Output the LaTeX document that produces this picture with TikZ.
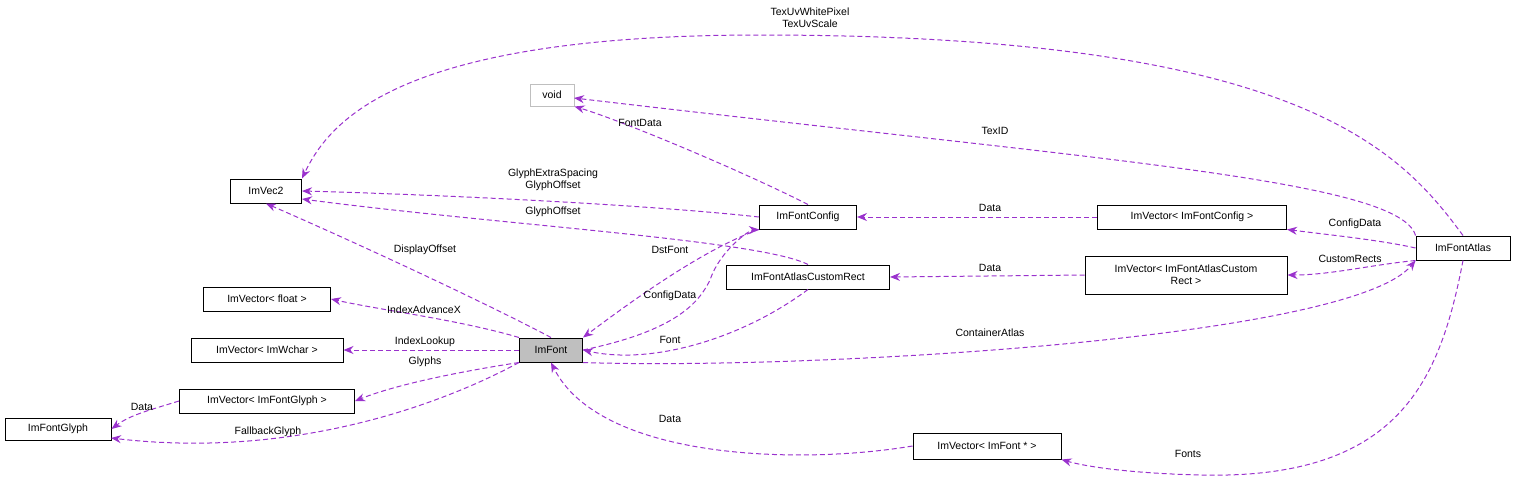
\documentclass[tikz,border=0pt]{standalone}
\usepackage{fontspec}
\setmainfont{Liberation Sans}
\usetikzlibrary{arrows.meta}
\begin{document}
\begin{tikzpicture}[x=1pt,y=-1pt,
 box/.style={draw=black,line width=1pt,fill=white,inner sep=0pt,font=\fontsize{10.5}{12}\selectfont,align=center},
 e/.style={draw={rgb,255:red,154;green,50;blue,205},line width=1pt,dash pattern=on 5pt off 3pt,-{Stealth[length=10pt,width=8pt,fill={rgb,255:red,154;green,50;blue,205}]}},
 lab/.style={font=\fontsize{10.5}{12}\selectfont,align=center,inner sep=1pt}]
\useasboundingbox (0,0) rectangle (1516,479);
\node[box,minimum width=106,minimum height=22] (glyph) at (58,429) {ImFontGlyph};
\node[box,minimum width=175,minimum height=24] (vglyph) at (267,401) {ImVector< ImFontGlyph >};
\node[box,minimum width=152,minimum height=24] (vwchar) at (267,350) {ImVector< ImWchar >};
\node[box,minimum width=127,minimum height=24] (vfloat) at (267,299) {ImVector< float >};
\node[box,minimum width=71,minimum height=24] (vec2) at (266,191) {ImVec2};
\node[box,draw={rgb,255:red,191;green,191;blue,191},minimum width=44,minimum height=22] (void) at (552,95) {void};
\node[box,fill={rgb,255:red,191;green,191;blue,191},minimum width=63,minimum height=24] (font) at (551,350) {ImFont};
\node[box,minimum width=97,minimum height=24] (cfg) at (808,217) {ImFontConfig};
\node[box,minimum width=163,minimum height=24] (rect) at (808,277) {ImFontAtlasCustomRect};
\node[box,minimum width=189,minimum height=24] (vcfg) at (1192,217) {ImVector< ImFontConfig >};
\node[box,minimum width=202,minimum height=38] (vrect) at (1186,275) {ImVector< ImFontAtlasCustom\\Rect >};
\node[box,minimum width=94,minimum height=24] (atlas) at (1463,248) {ImFontAtlas};
\node[box,minimum width=148,minimum height=26] (vfont) at (987,446) {ImVector< ImFont * >};

\draw[e] (atlas.north) .. controls (1400,150) and (1300,35) .. (760,35) .. controls (400,35) and (330,120) .. (vec2.north east);
\node[lab] at (810,18) {TexUvWhitePixel\\TexUvScale};
\draw[e] (atlas.north west) .. controls (1400,180) and (1100,160) .. (574,98);
\node[lab] at (995,131) {TexID};
\draw[e] (cfg.north) .. controls (740,170) and (620,120) .. (void.south east);
\node[lab] at (640,123) {FontData};
\draw[e] (cfg.west) .. controls (650,205) and (450,195) .. (vec2.east);
\node[lab] at (553,180) {GlyphExtraSpacing\\GlyphOffset};
\draw[e] (rect.north) .. controls (760,240) and (500,225) .. (302,199);
\node[lab] at (553,212) {GlyphOffset};
\draw[e] (font.north) .. controls (480,300) and (350,240) .. (vec2.south);
\node[lab] at (425,250) {DisplayOffset};
\draw[e] (font.north west) .. controls (460,320) and (380,310) .. (vfloat.east);
\node[lab] at (424,310) {IndexAdvanceX};
\draw[e] (font.west) -- (vwchar.east);
\node[lab] at (425,342) {IndexLookup};
\draw[e] (font.south west) .. controls (470,370) and (400,383) .. (vglyph.east);
\node[lab] at (425,362) {Glyphs};
\draw[e] (vglyph.west) .. controls (150,410) and (130,415) .. (glyph.east);
\node[lab] at (142,407) {Data};
\draw[e] (font.south west) .. controls (450,400) and (300,460) .. (111,438);
\node[lab] at (268,432) {FallbackGlyph};
\draw[e] (cfg.south west) .. controls (700,250) and (620,310) .. (font.north east);
\node[lab] at (670,250) {DstFont};
\draw[e] (font.east) .. controls (680,330) and (700,300) .. (710,280) .. controls (720,250) and (750,230) .. (cfg.south west);
\node[lab] at (670,296) {ConfigData};
\draw[e] (rect.south) .. controls (740,340) and (650,365) .. (font.east);
\node[lab] at (670,340) {Font};
\draw[e] (font.south east) .. controls (800,370) and (1350,340) .. (atlas.south west);
\node[lab] at (990,333) {ContainerAtlas};
\draw[e] (vcfg.west) -- (cfg.east);
\node[lab] at (990,208) {Data};
\draw[e] (vrect.west) -- (rect.east);
\node[lab] at (990,268) {Data};
\draw[e] (atlas.west) .. controls (1380,240) and (1330,235) .. (vcfg.south east);
\node[lab] at (1355,224) {ConfigData};
\draw[e] (atlas.south west) .. controls (1370,265) and (1330,275) .. (vrect.east);
\node[lab] at (1350,259) {CustomRects};
\draw[e] (atlas.south) .. controls (1440,380) and (1400,480) .. (1200,475) .. controls (1120,473) and (1080,465) .. (vfont.south east);
\node[lab] at (1188,454) {Fonts};
\draw[e] (vfont.west) .. controls (800,465) and (600,460) .. (font.south);
\node[lab] at (670,419) {Data};
\end{tikzpicture}
\end{document}
